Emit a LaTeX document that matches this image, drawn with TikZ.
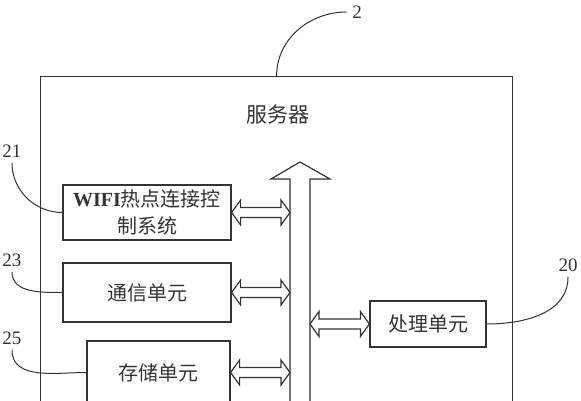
\documentclass[tikz,border=0pt]{standalone}
\usepackage{fontspec}
\setmainfont{Liberation Serif}
\newfontfamily\cjk{Noto Sans CJK SC}
\usetikzlibrary{calc}

\tikzset{
    dblarrow/.style={draw, fill=white, line join=miter,
        to path={let \p1=(\tikztostart), \p2=(\tikztotarget) in
            (\p1) -- (\x1+4.5pt,\y1+6.25pt) -- (\x1+4.5pt,\y1+2.5pt)
            -- (\x2-4.5pt,\y1+2.5pt) -- (\x2-4.5pt,\y1+6.25pt) -- (\x2,\y1)
            -- (\x2-4.5pt,\y1-6.25pt) -- (\x2-4.5pt,\y1-2.5pt)
            -- (\x1+4.5pt,\y1-2.5pt) -- (\x1+4.5pt,\y1-6.25pt) -- cycle}}
}

\begin{document}
\begin{tikzpicture}[x=0.5pt,
            y=0.5pt,
            color=black!80,
            line width=0.6pt,
            unit/.style={draw, inner sep=0pt, align=center,
                font=\cjk\fontsize{10}{13.5}\selectfont},
            tag/.style={inner sep=2.5pt, font=\fontsize{9.5}{11}\selectfont},
            leader/.style={line width=0.5pt}]

        \clip (0,0) rectangle (581,400);

        \node[draw, minimum width=236pt, minimum height=181.5pt,
              anchor=north west] (server) at (40,324) {};
        \node[font=\cjk\fontsize{10.5}{12}\selectfont] (title) at (278,285) {服务器};

        % bus
        \draw[fill=white] (290,-30) -- (290,221) -- (271,221) -- (300,238)
                       -- (330,221) -- (310,221) -- (310,-30);
        \coordinate (busL) at (290,0);
        \coordinate (busR) at (310,0);

        \node[unit, minimum width=84pt, minimum height=27.5pt] (wifi) at (147,187.5)
              {{\rmfamily\bfseries WIFI}热点连接控\\制系统};
        \node[unit, minimum width=84pt, minimum height=29.5pt]   (comm)  at (147,107.5) {通信单元};
        \node[unit, minimum width=71.5pt, minimum height=31.5pt] (store) at (158.5,27.5) {存储单元};
        \node[unit, minimum width=58pt, minimum height=23pt]     (proc)  at (428,76)    {处理单元};

        \path (wifi.east)  edge[dblarrow] (wifi.east -| busL)
              (comm.east)  edge[dblarrow] (comm.east -| busL)
              (store.east) edge[dblarrow] (store.east -| busL)
              (proc.west -| busR) edge[dblarrow] (proc.west);

        % reference labels
        \node[tag] (l2)  at (357,388) {2};
        \node[tag] (l21) at (12,249)  {21};
        \node[tag] (l23) at (12,140)  {23};
        \node[tag] (l25) at (12,62)   {25};
        \node[tag] (l20) at (568,135) {20};

        \draw[leader] (server.north) to[out=90,in=180] (l2.west);
        \draw[leader] (l21.south) to[out=-90,in=180] (wifi.west);
        \draw[leader] (l23.south) to[out=-90,in=180] (comm.west);
        \draw[leader] (l25.south) to[out=-90,in=180] (store.west);
        \draw[leader] (proc.east) to[out=0,in=-90] (l20.south);

    \end{tikzpicture}
\end{document}
